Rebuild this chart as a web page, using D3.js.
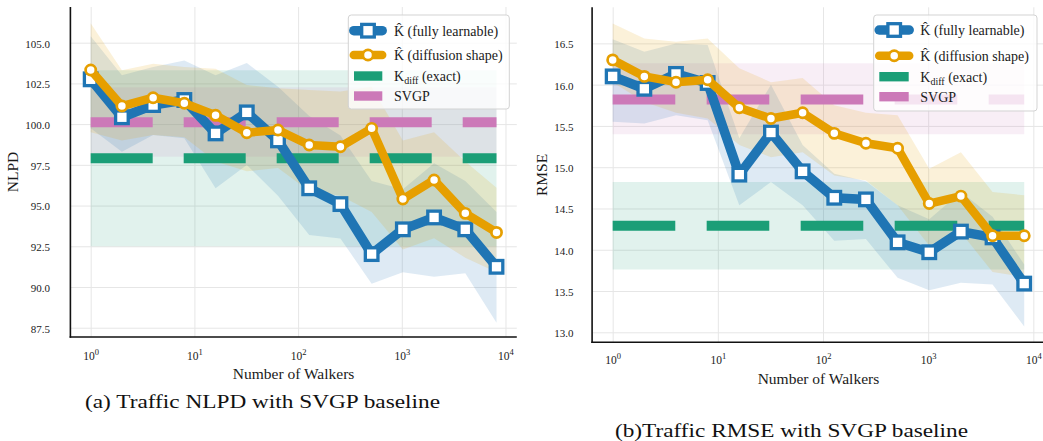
<!DOCTYPE html>
<html><head><meta charset="utf-8">
<script src="https://cdn.jsdelivr.net/npm/d3@7"></script>
<style>
body{margin:0;background:#fff}
svg text, svg tspan{font-family:"Liberation Serif","Times New Roman",serif !important}
</style>
</head><body>
<svg id="chart" width="1043" height="441"></svg>
<script>
// ---------------- DATA ----------------
const walkers = [1,2,4,8,16,32,64,128,256,512,1024,2048,4096,8192];
const xTickValues = [1,10,100,1000,10000];
const nlpdTicks = [87.5,90,92.5,95,97.5,100,102.5,105];
const rmseTicks = [13.0,13.5,14.0,14.5,15.0,15.5,16.0,16.5];
const seriesLabels = ["K\u0302 (fully learnable)","K\u0302 (diffusion shape)","K","SVGP"];
const kdiffSub = "diff", kdiffRest = " (exact)";
const captions = ["(a) Traffic NLPD with SVGP baseline","(b)Traffic RMSE with SVGP baseline"];
const xTitle = "Number of Walkers";

// NLPD panel
const nlpdLearnMean  = [102.75,100.42,101.17,101.48,99.43,100.72,99.0,96.06,95.09,92.02,93.54,94.27,93.54,91.24];
const nlpdLearnUpper = [105.4,103.0,103.5,103.9,103.0,103.75,102.3,100.5,99.3,96.5,96.0,97.6,96.5,94.6];
const nlpdLearnLower = [99.74,98.3,99.33,99.13,96.06,97.49,95.6,93.19,92.98,90.2,90.9,90.63,90.85,87.8];
const nlpdDiffMean   = [103.32,101.11,101.62,101.28,100.54,99.47,99.64,98.72,98.61,99.74,95.40,96.57,94.52,93.35];
const nlpdDiffUpper  = [106.2,103.3,103.7,103.5,103.4,102.4,102.2,102.1,102.0,102.3,99.0,99.5,97.7,96.1];
const nlpdDiffLower  = [99.5,99.0,99.33,99.2,97.7,97.1,97.3,95.9,95.6,94.6,92.3,93.0,91.8,90.9];
const nlpdKdiff = [92.5, 97.9, 103.3];     // lower, mean, upper
const nlpdSvgp  = [98.0, 100.12, 102.27];

// RMSE panel
const rmseLearnMean  = [16.10,15.95,16.13,16.02,14.91,15.42,14.95,14.63,14.61,14.09,13.97,14.22,14.15,13.59];
const rmseLearnUpper = [16.55,16.40,16.50,16.48,15.35,16.00,15.27,14.92,14.83,14.54,14.37,14.70,14.40,13.82];
const rmseLearnLower = [15.55,15.53,15.63,15.57,14.54,14.82,14.54,14.11,14.13,13.66,13.51,13.60,13.58,13.07];
const rmseDiffMean   = [16.30,16.10,16.03,16.06,15.72,15.59,15.66,15.41,15.29,15.23,14.56,14.65,14.17,14.17];
const rmseDiffUpper  = [16.74,16.56,16.52,16.56,16.20,16.03,16.08,15.75,15.66,15.63,14.98,15.18,14.70,14.66];
const rmseDiffLower  = [16.03,15.79,15.66,15.59,15.27,15.12,15.18,14.90,14.84,14.54,14.05,14.21,13.73,13.67];
const rmseKdiff = [13.76, 14.29, 14.82];
const rmseSvgp  = [15.40, 15.82, 16.26];

// ---------------- STYLE / LAYOUT ----------------
const C = {blue:"#1f75b4", orange:"#e69f00", green:"#1b9e77", pink:"#cc79b8", grid:"#e6e6e6", text:"#1a1a1a"};
const FONT = '"Liberation Serif","Times New Roman",serif';

const panels = [
  {
    x0:70.4, x1:516.8, yTop:7, yBot:337, yDomain:[86.93,107.19], ticks:nlpdTicks, yTitle:"NLPD",
    yLabPad:20.5, yTitleX:18, yTitleY:172, xTickBase:360, xTitleY:378.5,
    legend:{x:348.3,y:15,w:161,h:94,hx0:353.8,hx1:382.2,sx0:354,sx1:382.3,tx:394,rows:[30.7,55,76,96]},
    caption:{x:85,y:408,w:355,text:captions[0]},
    learn:[nlpdLearnMean,nlpdLearnUpper,nlpdLearnLower], diff:[nlpdDiffMean,nlpdDiffUpper,nlpdDiffLower],
    kdiff:nlpdKdiff, svgp:nlpdSvgp, dash:"62,31"
  },
  {
    x0:592.1, x1:1044.8, yTop:7.3, yBot:342.3, yDomain:[12.879,16.937], ticks:rmseTicks, yTitle:"RMSE",
    yLabPad:18.5, yTitleX:547, yTitleY:175, xTickBase:364.3, xTitleY:384,
    legend:{x:873.7,y:15,w:163.3,h:96,hx0:879.2,hx1:909.2,sx0:879.3,sx1:908.7,tx:920.3,rows:[30,55.7,76.7,96.7]},
    caption:{x:615,y:437,w:353,text:captions[1]},
    learn:[rmseLearnMean,rmseLearnUpper,rmseLearnLower], diff:[rmseDiffMean,rmseDiffUpper,rmseDiffLower],
    kdiff:rmseKdiff, svgp:rmseSvgp, dash:"62.6,31.4"
  }
];

const svg = d3.select("#chart");

panels.forEach(p => {
  const lx = Math.log10(walkers[0]), hx = Math.log10(walkers[walkers.length-1]);
  const m = 0.05*(hx-lx);
  const x = d3.scaleLog().domain([Math.pow(10,lx-m), Math.pow(10,hx+m)]).range([p.x0,p.x1]);
  const y = d3.scaleLinear().domain(p.yDomain).range([p.yBot,p.yTop]);
  const g = svg.append("g").attr("font-family",FONT);

  // grid
  g.append("g").attr("transform",`translate(0,${p.yBot})`)
    .call(d3.axisBottom(x).tickValues(xTickValues).tickSize(-(p.yBot-p.yTop)).tickFormat(""))
    .call(s=>{s.select(".domain").remove(); s.selectAll("line").attr("stroke",C.grid).attr("stroke-width",1);});
  g.append("g").attr("transform",`translate(${p.x0},0)`)
    .call(d3.axisLeft(y).tickValues(p.ticks).tickSize(-(p.x1-p.x0)).tickFormat(""))
    .call(s=>{s.select(".domain").remove(); s.selectAll("line").attr("stroke",C.grid).attr("stroke-width",1);});

  const xs = [walkers[0], walkers[walkers.length-1]];
  const flatArea = (lo,hi)=>d3.area().x(d=>x(d)).y0(y(lo)).y1(y(hi))(xs);
  g.append("path").attr("d",flatArea(p.kdiff[0],p.kdiff[2])).attr("fill",C.green).attr("fill-opacity",0.13);
  g.append("path").attr("d",flatArea(p.svgp[0],p.svgp[2])).attr("fill",C.pink).attr("fill-opacity",0.13);

  const band = (arr,col)=>{
    const a = d3.area().x((d,i)=>x(walkers[i])).y0((d,i)=>y(arr[2][i])).y1((d,i)=>y(arr[1][i]));
    g.append("path").attr("d",a(arr[0])).attr("fill",col).attr("fill-opacity",0.15);
  };
  band(p.learn,C.blue);
  band(p.diff,C.orange);

  const flatLine = v=>d3.line().x(d=>x(d)).y(y(v))(xs);
  g.append("path").attr("d",flatLine(p.kdiff[1])).attr("stroke",C.green).attr("stroke-width",10)
    .attr("fill","none").attr("stroke-dasharray",p.dash);
  g.append("path").attr("d",flatLine(p.svgp[1])).attr("stroke",C.pink).attr("stroke-width",10)
    .attr("fill","none").attr("stroke-dasharray",p.dash);

  const line = d3.line().x((d,i)=>x(walkers[i])).y(d=>y(d));
  g.append("path").attr("d",line(p.learn[0])).attr("stroke",C.blue).attr("stroke-width",9.5)
    .attr("fill","none").attr("stroke-linejoin","round").attr("stroke-linecap","round");
  const sq = 12.6;
  g.selectAll(null).data(p.learn[0]).join("rect")
    .attr("x",(d,i)=>x(walkers[i])-sq/2).attr("y",d=>y(d)-sq/2).attr("width",sq).attr("height",sq)
    .attr("fill","#fff").attr("stroke",C.blue).attr("stroke-width",3.3);
  g.append("path").attr("d",line(p.diff[0])).attr("stroke",C.orange).attr("stroke-width",8.5)
    .attr("fill","none").attr("stroke-linejoin","round").attr("stroke-linecap","round");
  g.selectAll(null).data(p.diff[0]).join("circle")
    .attr("cx",(d,i)=>x(walkers[i])).attr("cy",d=>y(d)).attr("r",5.1)
    .attr("fill","#fff").attr("stroke",C.orange).attr("stroke-width",2.7);

  const yAx = g.append("g").attr("transform",`translate(${p.x0},0)`)
    .call(d3.axisLeft(y).tickValues(p.ticks).tickSize(0).tickPadding(p.yLabPad).tickFormat(d3.format(".1f")));
  yAx.attr("font-family",FONT);
  yAx.select(".domain").remove();
  yAx.selectAll("text").attr("dy",null).attr("y",4.4).attr("font-size","11px").attr("fill",C.text);
  const xAx = g.append("g").attr("transform",`translate(0,${p.yBot})`)
    .call(d3.axisBottom(x).tickValues(xTickValues).tickSize(0));
  xAx.attr("font-family",FONT);
  xAx.select(".domain").remove();
  xAx.selectAll("text").attr("dy",null).attr("y",p.xTickBase-p.yBot).attr("font-size","11.5px")
    .attr("fill",C.text)
    .each(function(d){
      const t = d3.select(this).text(null);
      t.append("tspan").text("10");
      t.append("tspan").attr("dy",-5).attr("font-size","8.5px").text(String(Math.round(Math.log10(d))));
    });

  g.append("line").attr("x1",p.x0).attr("x2",p.x0).attr("y1",p.yTop).attr("y2",p.yBot+0.8)
    .attr("stroke","#111").attr("stroke-width",1.6);
  g.append("line").attr("x1",p.x0-0.8).attr("x2",p.x1).attr("y1",p.yBot).attr("y2",p.yBot)
    .attr("stroke","#111").attr("stroke-width",1.6);

  g.append("text").attr("x",(p.x0+p.x1)/2).attr("y",p.xTitleY).attr("text-anchor","middle")
    .attr("font-size","15.5px").attr("fill",C.text).text(xTitle);
  g.append("text").attr("transform",`translate(${p.yTitleX},${p.yTitleY}) rotate(-90)`).attr("text-anchor","middle")
    .attr("font-size","15.5px").attr("fill",C.text).text(p.yTitle);

  const L = p.legend;
  g.append("rect").attr("x",L.x).attr("y",L.y).attr("width",L.w).attr("height",L.h).attr("rx",3)
    .attr("fill","#fff").attr("fill-opacity",0.8).attr("stroke","#d3d3d3").attr("stroke-width",1);
  const hc = (L.hx0+L.hx1)/2;
  g.append("line").attr("x1",L.hx0).attr("x2",L.hx1).attr("y1",L.rows[0]).attr("y2",L.rows[0])
    .attr("stroke",C.blue).attr("stroke-width",9.5).attr("stroke-linecap","round");
  g.append("rect").attr("x",hc-sq/2).attr("y",L.rows[0]-sq/2).attr("width",sq).attr("height",sq)
    .attr("fill","#fff").attr("stroke",C.blue).attr("stroke-width",3.3);
  g.append("line").attr("x1",L.hx0).attr("x2",L.hx1).attr("y1",L.rows[1]).attr("y2",L.rows[1])
    .attr("stroke",C.orange).attr("stroke-width",8.5).attr("stroke-linecap","round");
  g.append("circle").attr("cx",hc).attr("cy",L.rows[1]).attr("r",5.1)
    .attr("fill","#fff").attr("stroke",C.orange).attr("stroke-width",2.7);
  g.append("rect").attr("x",L.sx0).attr("y",L.rows[2]-4.7).attr("width",L.sx1-L.sx0).attr("height",9.4).attr("fill",C.green);
  g.append("rect").attr("x",L.sx0).attr("y",L.rows[3]-4.7).attr("width",L.sx1-L.sx0).attr("height",9.4).attr("fill",C.pink);
  const lt = (i)=>g.append("text").attr("x",L.tx).attr("y",L.rows[i]+4.8).attr("font-size","14px").attr("fill",C.text);
  lt(0).text(seriesLabels[0]);
  lt(1).text(seriesLabels[1]);
  const t2 = lt(2);
  t2.append("tspan").text(seriesLabels[2]);
  t2.append("tspan").attr("dy",3).attr("font-size","10px").text(kdiffSub);
  t2.append("tspan").attr("dy",-3).text(kdiffRest);
  lt(3).text(seriesLabels[3]);

  svg.append("text").attr("x",p.caption.x).attr("y",p.caption.y).attr("font-size","19px").attr("fill","#111")
    .attr("font-family",FONT)
    .attr("textLength",p.caption.w).attr("lengthAdjust","spacingAndGlyphs").text(p.caption.text);
});
</script>
</body></html>
